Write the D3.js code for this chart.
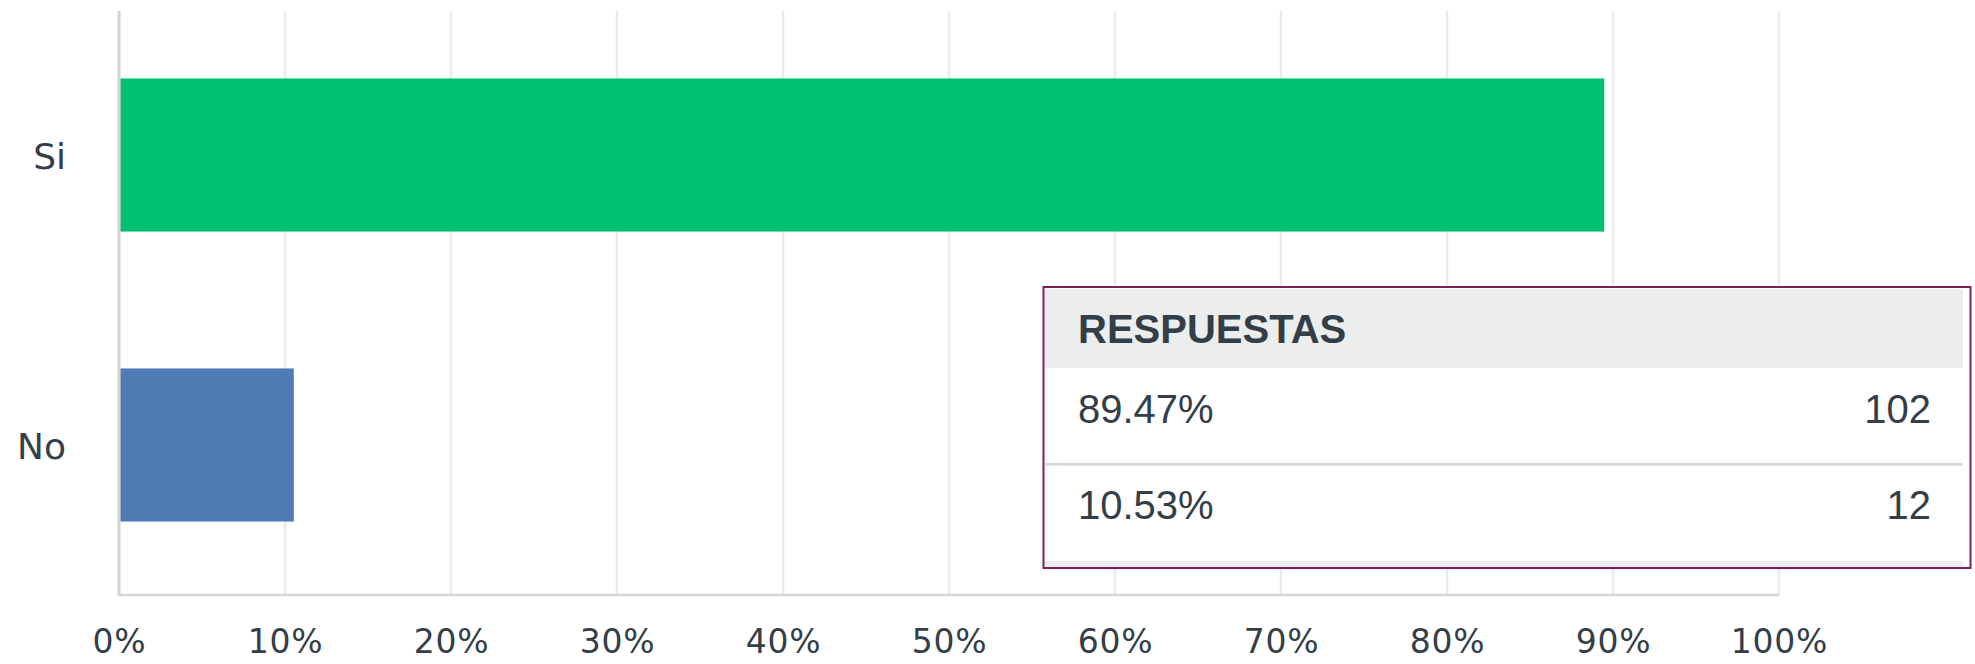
<!DOCTYPE html>
<html>
<head>
<meta charset="utf-8">
<script src="https://cdn.jsdelivr.net/npm/d3@7"></script>
<style>
  body { margin: 0; background: #fff; }
  svg { display: block; }
</style>
</head>
<body>
<svg id="chart" width="1975" height="664"></svg>
<script>
    'use strict';

    // data
    var categories = ["Si", "No"];
    var percents = [89.47, 10.53];
    var counts = [102, 12];
    var barColors = ["#00bf6f", "#507cb6"];
    var tickValues = [0, 10, 20, 30, 40, 50, 60, 70, 80, 90, 100];
    var tableTitle = "RESPUESTAS";

    var svg = d3.select("#chart");
    var textColor = "#333e48";

    var x = d3.scaleLinear().domain([0, 100]).range([119, 1779]);
    var y = d3.scaleBand().domain(categories).range([10, 590])
        .paddingInner(0.472).paddingOuter(0.236);

    var plotTop = 11, plotBottom = 595;

    // vertical gridlines
    svg.append("g").selectAll("line")
        .data(tickValues.slice(1))
        .enter().append("line")
        .attr("x1", function(d) { return x(d); })
        .attr("x2", function(d) { return x(d); })
        .attr("y1", plotTop)
        .attr("y2", plotBottom)
        .attr("stroke", "#ebebeb")
        .attr("stroke-width", 2.5);

    // bottom axis line + left axis line
    svg.append("line")
        .attr("x1", x(0)).attr("x2", x(100))
        .attr("y1", plotBottom).attr("y2", plotBottom)
        .attr("stroke", "#d6d6d6").attr("stroke-width", 2.5);
    svg.append("line")
        .attr("x1", x(0)).attr("x2", x(0))
        .attr("y1", plotTop).attr("y2", plotBottom + 1)
        .attr("stroke", "#d2d2d2").attr("stroke-width", 3);

    // bars
    svg.append("g").selectAll("rect")
        .data(categories)
        .enter().append("rect")
        .attr("x", x(0) + 1.5)
        .attr("y", function(d) { return y(d); })
        .attr("width", function(d, i) { return x(percents[i]) - x(0) - 1.5; })
        .attr("height", y.bandwidth())
        .attr("fill", function(d, i) { return barColors[i]; });

    // x tick labels
    var xAxis = d3.axisBottom(x)
        .tickValues(tickValues)
        .tickSize(0)
        .tickPadding(0)
        .tickFormat(function(d) { return d + "%"; });
    var gx = svg.append("g").attr("transform", "translate(0,653)").call(xAxis);
    gx.select(".domain").remove();
    gx.selectAll("text")
        .attr("dy", 0)
        .style("font-family", "'DejaVu Sans', sans-serif")
        .style("font-size", "33px")
        .style("letter-spacing", "0.8px")
        .style("fill", textColor);

    // y category labels
    var yAxis = d3.axisLeft(y).tickSize(0).tickPadding(0);
    var gy = svg.append("g").attr("transform", "translate(66,0)").call(yAxis);
    gy.select(".domain").remove();
    gy.selectAll("text")
        .attr("dy", "0.38em")
        .style("font-family", "'DejaVu Sans', sans-serif")
        .style("font-size", "36px")
        .style("fill", textColor);

    // answer table
    var tbl = { left: 1043, right: 1971, top: 287, headH: 81, rowH: 96 };
    var t = svg.append("g");
    t.append("rect")
        .attr("x", tbl.left).attr("y", tbl.top)
        .attr("width", tbl.right - tbl.left).attr("height", 281)
        .attr("fill", "#fff");
    t.append("rect")
        .attr("x", tbl.left + 2).attr("y", tbl.top + 2)
        .attr("width", tbl.right - tbl.left - 10).attr("height", tbl.headH - 2)
        .attr("fill", "#eceeee");
    t.append("text")
        .attr("x", 1078).attr("y", 343)
        .style("font-family", "'Liberation Sans', Arial, sans-serif")
        .style("font-weight", "bold")
        .style("font-size", "40px")
        .style("fill", textColor)
        .text(tableTitle);

    var rowTop = tbl.top + tbl.headH;
    var rows = t.selectAll("g.row")
        .data(categories)
        .enter().append("g")
        .attr("class", "row")
        .attr("transform", function(d, i) { return "translate(0," + (rowTop + i * tbl.rowH) + ")"; });
    rows.append("text")
        .attr("x", 1078).attr("y", 55)
        .style("font-family", "'Liberation Sans', Arial, sans-serif")
        .style("font-size", "40px")
        .style("fill", textColor)
        .text(function(d, i) { return d3.format(".2f")(percents[i]) + "%"; });
    rows.append("text")
        .attr("x", 1931).attr("y", 55)
        .attr("text-anchor", "end")
        .style("font-family", "'Liberation Sans', Arial, sans-serif")
        .style("font-size", "40px")
        .style("fill", textColor)
        .text(function(d, i) { return counts[i]; });
    rows.filter(function(d, i) { return i < categories.length - 1; })
        .append("rect")
        .attr("x", tbl.left + 2).attr("y", tbl.rowH - 1)
        .attr("width", tbl.right - tbl.left - 10).attr("height", 2.5)
        .attr("fill", "#d5d8da");

    // thin grey strip under the last row
    t.append("rect")
        .attr("x", tbl.left + 2).attr("y", rowTop + categories.length * tbl.rowH + 1)
        .attr("width", tbl.right - tbl.left - 10).attr("height", 6)
        .attr("fill", "#eceeee");

    t.append("rect")
        .attr("x", tbl.left + 0.5).attr("y", tbl.top)
        .attr("width", tbl.right - tbl.left - 1).attr("height", 281)
        .attr("fill", "none")
        .attr("stroke", "#7b2157")
        .attr("stroke-width", 2);
</script>
</body>
</html>
